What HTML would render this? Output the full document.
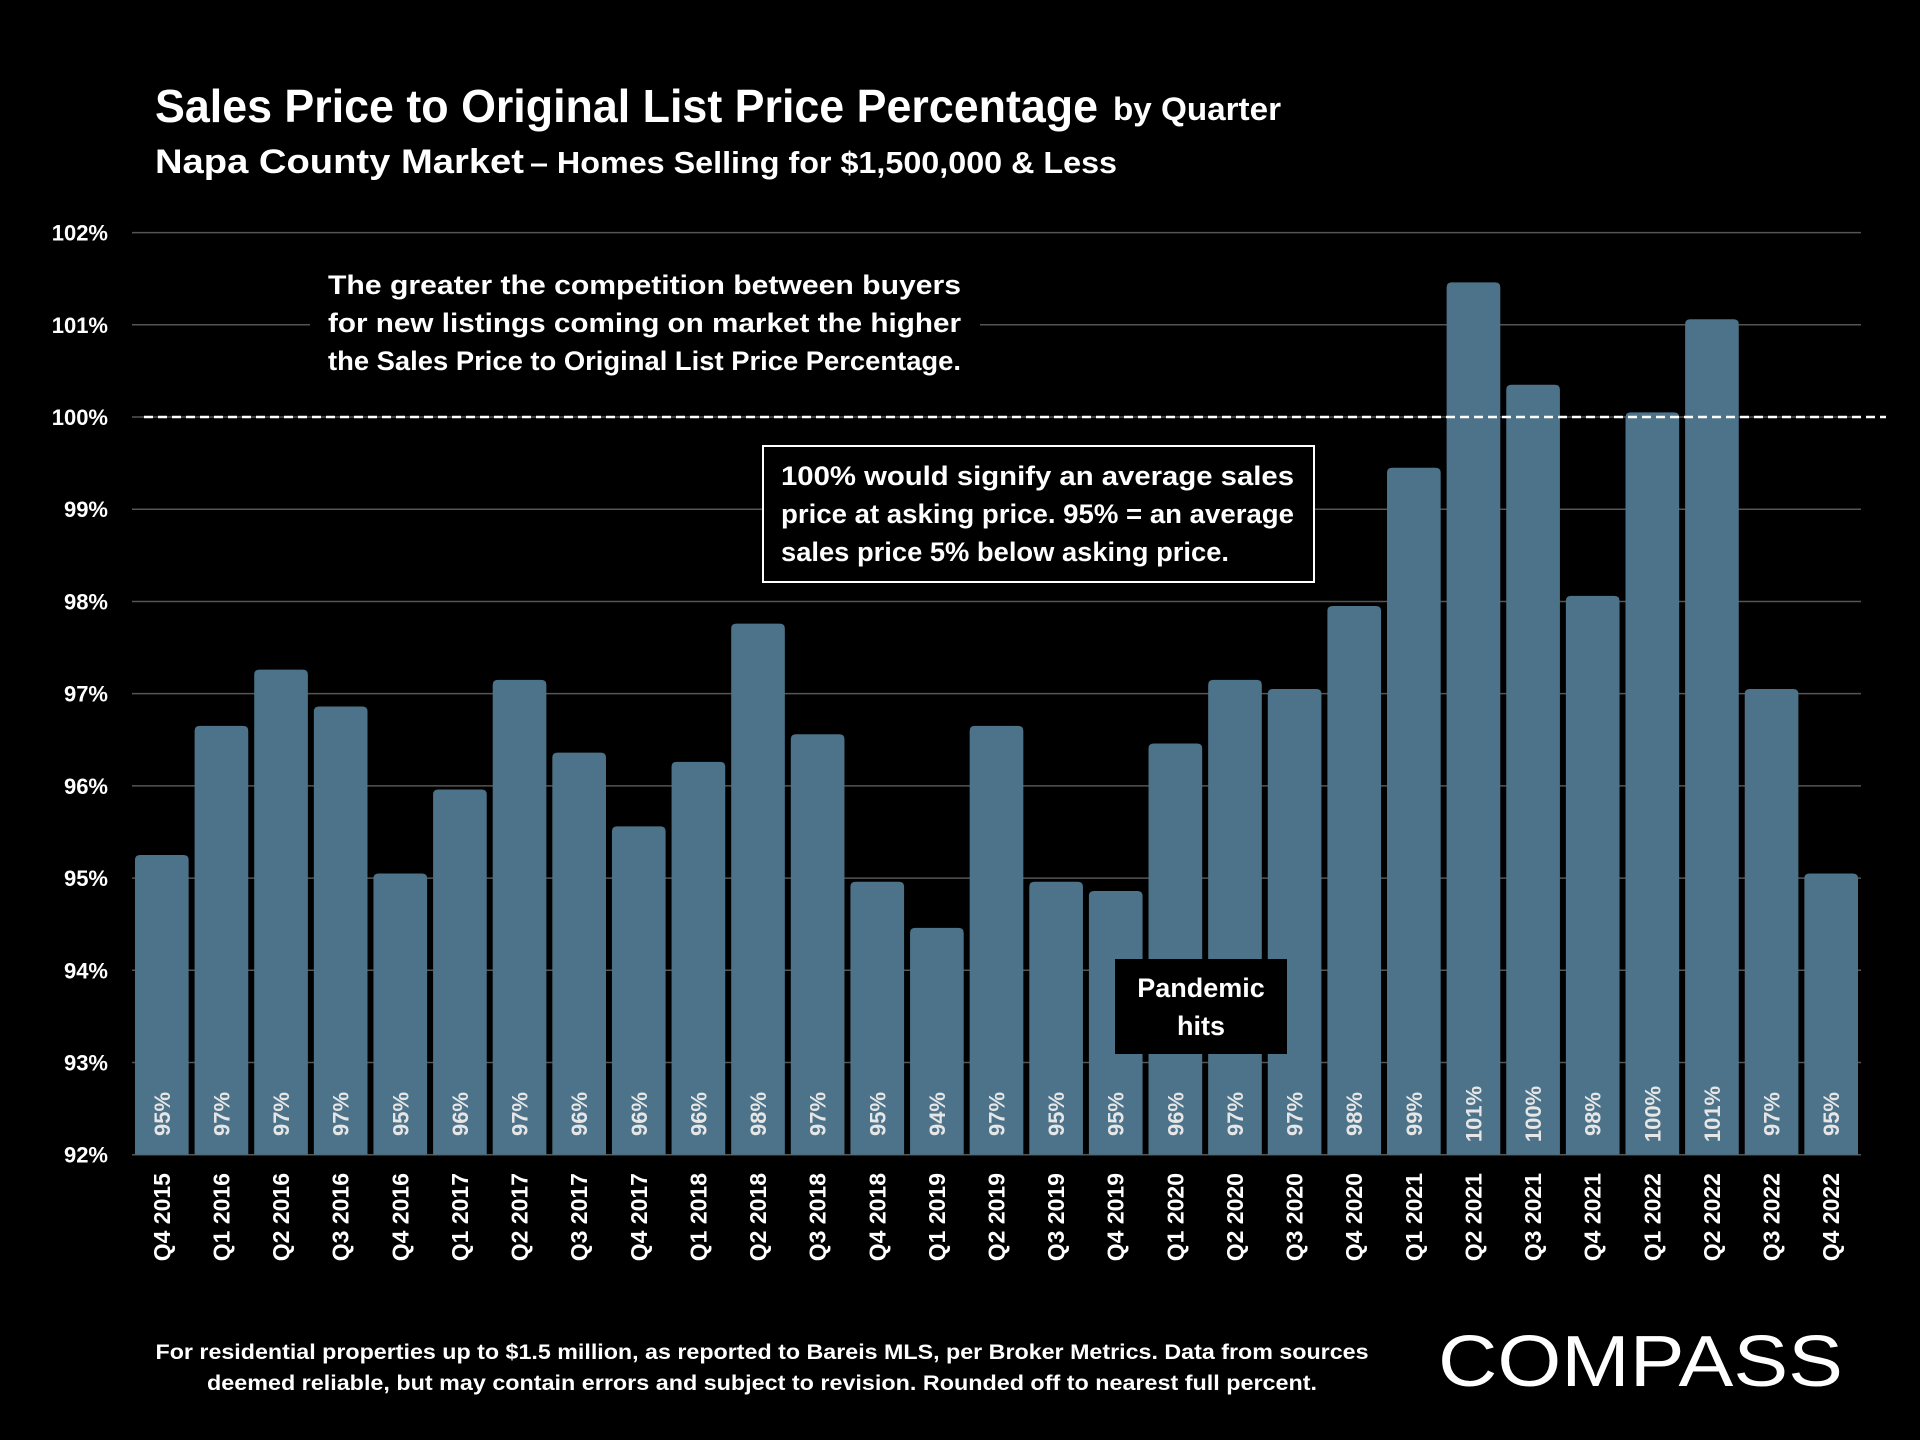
<!DOCTYPE html>
<html><head><meta charset="utf-8"><style>
html,body{margin:0;padding:0;background:#000;}
svg{display:block;font-family:"Liberation Sans",sans-serif;font-weight:bold;}
</style></head><body>
<svg id="c" width="1920" height="1440" viewBox="0 0 1920 1440">
<rect width="1920" height="1440" fill="#000"/>
<text x="155" y="122" fill="#fff" font-size="46" textLength="943" lengthAdjust="spacingAndGlyphs">Sales Price to Original List Price Percentage</text>
<text x="1113" y="120" fill="#fff" font-size="32" textLength="168" lengthAdjust="spacingAndGlyphs">by Quarter</text>
<text x="155" y="173" fill="#fff" font-size="34" textLength="369" lengthAdjust="spacingAndGlyphs">Napa County Market</text>
<text x="530" y="173" fill="#fff" font-size="31" textLength="587" lengthAdjust="spacingAndGlyphs">– Homes Selling for $1,500,000 &amp; Less</text>
<g id="grid"></g>
<g id="bars"></g>
<g id="ann"></g>
<text x="762" y="1359" fill="#fff" font-size="21" text-anchor="middle" textLength="1213" lengthAdjust="spacingAndGlyphs">For residential properties up to $1.5 million, as reported to Bareis MLS, per Broker Metrics. Data from sources</text>
<text x="762" y="1390" fill="#fff" font-size="21" text-anchor="middle" textLength="1110" lengthAdjust="spacingAndGlyphs">deemed reliable, but may contain errors and subject to revision. Rounded off to nearest full percent.</text>
<text x="1438" y="1386" fill="#fff" font-size="72" font-weight="normal" textLength="405" lengthAdjust="spacingAndGlyphs">COMPASS</text>
</svg>
<script>
const categories=["Q4 2015","Q1 2016","Q2 2016","Q3 2016","Q4 2016","Q1 2017","Q2 2017","Q3 2017","Q4 2017","Q1 2018","Q2 2018","Q3 2018","Q4 2018","Q1 2019","Q2 2019","Q3 2019","Q4 2019","Q1 2020","Q2 2020","Q3 2020","Q4 2020","Q1 2021","Q2 2021","Q3 2021","Q4 2021","Q1 2022","Q2 2022","Q3 2022","Q4 2022"];
const values=[95.25,96.65,97.26,96.86,95.05,95.96,97.15,96.36,95.56,96.26,97.76,96.56,94.96,94.46,96.65,94.96,94.86,96.46,97.15,97.05,97.95,99.45,101.46,100.35,98.06,100.05,101.06,97.05,95.05];
const valueLabels=["95%","97%","97%","97%","95%","96%","97%","96%","96%","96%","98%","97%","95%","94%","97%","95%","95%","96%","97%","97%","98%","99%","101%","100%","98%","100%","101%","97%","95%"];
const yTicks=[92,93,94,95,96,97,98,99,100,101,102];
const yTickLabels=["92%","93%","94%","95%","96%","97%","98%","99%","100%","101%","102%"];
const NS="http://www.w3.org/2000/svg";
const X0=132,X1=1861,YMIN=92,YMAX=102,PY0=1154.7,PY1=232.6;
const band=(X1-X0)/categories.length;
function y(v){return PY0-(v-YMIN)/(YMAX-YMIN)*(PY0-PY1);}
function x(i){return X0+band*i;}
function mk(t,a,p){const e=document.createElementNS(NS,t);for(const k in a)e.setAttribute(k,a[k]);p.appendChild(e);return e;}
const grid=document.getElementById('grid'),bars=document.getElementById('bars'),ann=document.getElementById('ann');
yTicks.forEach((t,i)=>{
 const l=mk('line',{x1:X0,x2:X1,y1:y(t),y2:y(t),stroke:'#555','stroke-width':1.5},grid);
 
 
 const tx=mk('text',{x:108,y:y(t)+8,fill:'#fff','font-size':22,'text-anchor':'end'},grid);
 tx.textContent=yTickLabels[i];
 
 
});
const bw=band*0.9;
values.forEach((v,i)=>{
 const bx=x(i)+(band-bw)/2,top=y(v);
 const r=mk('path',{d:`M${bx},${PY0}V${top+5}Q${bx},${top} ${bx+5},${top}H${bx+bw-5}Q${bx+bw},${top} ${bx+bw},${top+5}V${PY0}Z`,fill:'#4c7389'},bars);
 
 
 const cx=bx+bw/2;
 const vl=mk('text',{x:cx+8,y:1114,fill:'#e6e6e6','font-size':22,'text-anchor':'middle',transform:`rotate(-90 ${cx+8} 1114)`},bars);
 vl.textContent=valueLabels[i];
 
 
 const cl=mk('text',{x:cx+8,y:1173,fill:'#fff','font-size':23,'text-anchor':'end',transform:`rotate(-90 ${cx+8} 1173)`},bars);
 cl.textContent=categories[i];
 
 
});
const d=mk('line',{x1:144,x2:1886,y1:y(100),y2:y(100),stroke:'#fff','stroke-width':2.5,'stroke-dasharray':'9 5'},ann);


const bg=mk('rect',{x:310,y:260,width:670,height:120,fill:'#000'},ann);


["The greater the competition between buyers","for new listings coming on market the higher","the Sales Price to Original List Price Percentage."].forEach((s,i)=>{
 const t=mk('text',{x:328,y:294+i*38,fill:'#fff','font-size':27,textLength:633,lengthAdjust:'spacingAndGlyphs'},ann);
 t.textContent=s;
 
 
});
const b2=mk('rect',{x:763,y:446,width:551,height:136,fill:'#000',stroke:'#fff','stroke-width':2},ann);


[["100% would signify an average sales",513],["price at asking price. 95% = an average",513],["sales price 5% below asking price.",448]].forEach((s,i)=>{
 const t=mk('text',{x:781,y:485+i*38,fill:'#fff','font-size':27,textLength:s[1],lengthAdjust:'spacingAndGlyphs'},ann);
 t.textContent=s[0];
 
 
});
const b3=mk('rect',{x:1115,y:959,width:172,height:95,fill:'#000'},ann);


["Pandemic","hits"].forEach((s,i)=>{
 const t=mk('text',{x:1201,y:997+i*38,fill:'#fff','font-size':27,'text-anchor':'middle'},ann);
 t.textContent=s;
 
 
});
</script>
</body></html>
